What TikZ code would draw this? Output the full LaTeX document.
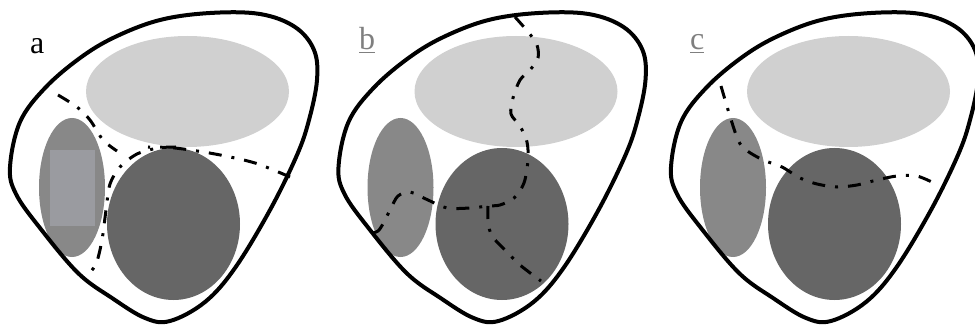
\documentclass[tikz,border=0pt]{standalone}
\usepackage{fontspec}
\setmainfont{Liberation Serif}
\usetikzlibrary{positioning}
\definecolor{lobepale}{HTML}{D0D0D0}
\definecolor{lobemid}{HTML}{888888}
\definecolor{lobedark}{HTML}{666666}
\definecolor{patchgray}{HTML}{9A9BA0}
\definecolor{taggray}{HTML}{7F7F7F}

\begin{document}
\begin{tikzpicture}[x=1pt,y=-1pt,
    rim/.style={line width=4pt},
    cutline/.style={line width=3pt, dash pattern=on 13pt off 10pt on 3pt off 10pt},
    tag/.style={font=\fontsize{32}{32}\selectfont, inner sep=0pt, anchor=base west}]
    \useasboundingbox (0,0) rectangle (975,326);

    % Lobes and outline, same in every panel
    \foreach \dx in {0,328.5,661} {
        \begin{scope}[xshift=\dx]
            \fill[lobepale] (187.5,91.5) ellipse [x radius=101.5, y radius=55.5];
            \fill[lobemid] (72,187.5) ellipse [x radius=33, y radius=69.5];
            \fill[lobedark] (173.5,224) ellipse [x radius=66.5, y radius=76];
            \draw[rim] plot[smooth cycle, tension=0.6] coordinates {
                (10,167) (20,122) (45,88) (80,58) (115,37) (160,20) (210,13)
                (260,14) (295,27) (314,50) (317,80) (309,120) (297,155)
                (270,210) (235,268) (205,302) (170,321) (145,318) (112,298)
                (78,273) (40,228) (16,194)};
        \end{scope}
    }

    % Panel a
    \fill[patchgray] (50,150) rectangle (95,226);
    \draw[cutline] plot[smooth] coordinates {(58,95) (77,107) (90,120) (103,140) (117,151)};
    \draw[cutline] plot[smooth] coordinates {(290,177) (255,163) (215,154) (175,148) (148,147)};
    \draw[cutline] plot[smooth] coordinates {(176,147) (158,148) (137,154) (120,167)
        (110,184) (106,210) (102,240) (96,264) (86,277)};

    % Panel b
    \draw[cutline] plot[smooth] coordinates {(515,17) (529,33) (537,45) (538,58) (530,70)
        (520,80) (513,98) (511,114) (520,126) (527,142) (528,160) (524,183) (514,198)
        (500,205) (488,206) (470,208) (447,208) (428,200) (410,192) (398,196) (391,208)
        (384,222) (378,231) (370,233) (366,230)};
    \draw[cutline] plot[smooth] coordinates {(488,206) (488,222) (492,236) (505,250)
        (520,265) (541,281)};

    % Panel c
    \draw[cutline] plot[smooth] coordinates {(721,86) (729,113) (738,140) (746,150)
        (763,160) (782,167) (800,178) (817,184) (837,187) (857,185) (877,180) (897,176)
        (917,176) (938,185)};

    % Labels
    \node[tag] (taga) at (30,54) {a};
    \node[tag, taggray] (tagb) at (359,50) {\underline{b}};
    \node[tag, taggray] (tagc) at (690,50) {\underline{c}};

\end{tikzpicture}
\end{document}
